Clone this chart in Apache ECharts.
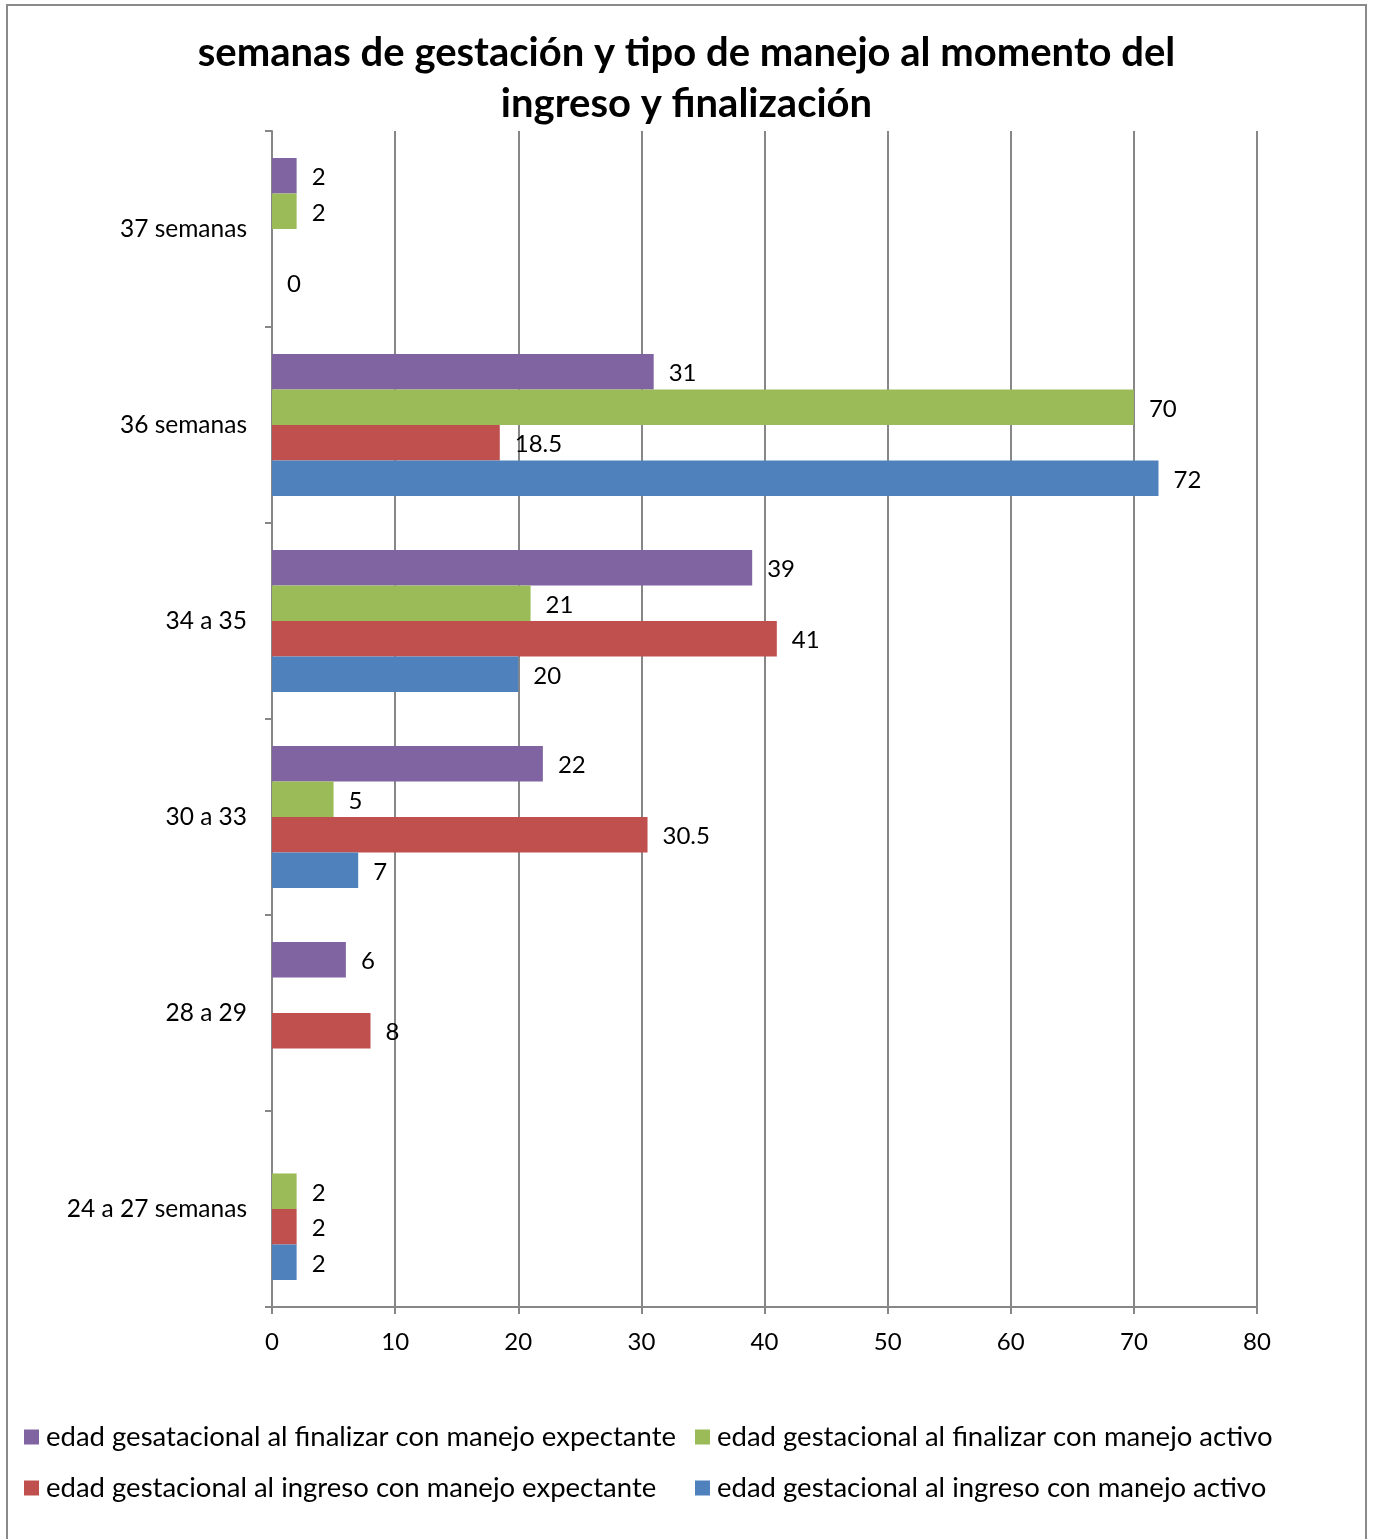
<!DOCTYPE html>
<html>
<head>
<meta charset="utf-8">
<script src="https://cdn.jsdelivr.net/npm/echarts@6/dist/echarts.min.js"></script>
<style>
  html, body { margin: 0; padding: 0; background: #fff; }
  #chart { width: 1373px; height: 1539px; }
</style>
</head>
<body>
<div id="chart"></div>
<script>
// categorias de abajo hacia arriba
const categories = ['24 a 27 semanas', '28 a 29', '30 a 33', '34 a 35', '36 semanas', '37 semanas']
const xTicks = [0, 10, 20, 30, 40, 50, 60, 70, 80]

const ingresoActivo = [2, null, 7, 20, 72, 0]
const ingresoExpectante = [2, 8, 30.5, 41, 18.5, null]
const finalizarActivo = [2, null, 5, 21, 70, 2]
const finalizarExpectante = [null, 6, 22, 39, 31, 2]

const names = {
  ia: 'edad gestacional al ingreso con manejo activo',
  ie: 'edad gestacional al ingreso con manejo expectante',
  fa: 'edad gestacional al finalizar con manejo activo',
  fe: 'edad gesatacional al finalizar con manejo expectante'
}

const font = 'Lato'
const gray = '#878787'

const makeSeries = (name, data, color) => ({
  name: name,
  type: 'bar',
  data: data,
  barGap: '0%',
  barCategoryGap: '27.5%',
  itemStyle: { color: color },
  label: {
    show: true,
    position: 'right',
    distance: 15,
    offset: [0, 2],
    color: '#000',
    fontFamily: font,
    fontSize: 24
  }
})

const legendText = { fontFamily: font, fontSize: 27.5, color: '#000', padding: [0, 0, 0, 2] }

var myChart = echarts.init(document.getElementById('chart'))
let option = {
  animation: false,
  title: {
    text: 'semanas de gestación y tipo de manejo al momento del\ningreso y finalización',
    left: 'center',
    top: 23,
    textStyle: {
      fontFamily: font,
      fontSize: 40,
      fontWeight: 'bold',
      color: '#000',
      lineHeight: 51
    }
  },
  legend: [
    {
      orient: 'vertical',
      left: 19,
      top: 1418,
      itemGap: 23,
      itemWidth: 15,
      itemHeight: 15,
      icon: 'rect',
      data: [names.fe, names.ie],
      textStyle: legendText
    },
    {
      orient: 'vertical',
      left: 690,
      top: 1418,
      itemGap: 23,
      itemWidth: 15,
      itemHeight: 15,
      icon: 'rect',
      data: [names.fa, names.ia],
      textStyle: legendText
    }
  ],
  grid: {
    left: 272,
    right: 116,
    top: 131,
    bottom: 232,
    containLabel: false
  },
  xAxis: {
    type: 'value',
    min: xTicks[0],
    max: xTicks[xTicks.length - 1],
    interval: 10,
    axisLine: { show: true, lineStyle: { color: gray, width: 2 } },
    axisTick: { show: true, length: 7, lineStyle: { color: gray, width: 2 } },
    splitLine: { show: true, lineStyle: { color: gray, width: 2 } },
    axisLabel: { margin: 23, color: '#000', fontFamily: font, fontSize: 24 }
  },
  yAxis: {
    type: 'category',
    data: categories,
    axisLine: { show: true, lineStyle: { color: gray, width: 2 } },
    axisTick: { show: true, length: 7, lineStyle: { color: gray, width: 2 } },
    axisLabel: { margin: 25, color: '#000', fontFamily: font, fontSize: 24.5 }
  },
  graphic: [
    {
      type: 'rect',
      shape: { x: 7, y: 5, width: 1359, height: 1560 },
      style: { fill: 'none', stroke: '#8a8a8a', lineWidth: 2 },
      silent: true
    }
  ],
  // la primera serie queda arriba dentro de cada categoria
  series: [
    makeSeries(names.fe, finalizarExpectante, '#8064A2'),
    makeSeries(names.fa, finalizarActivo, '#9BBB59'),
    makeSeries(names.ie, ingresoExpectante, '#C0504D'),
    makeSeries(names.ia, ingresoActivo, '#4F81BD')
  ]
}
myChart.setOption(option)
</script>
</body>
</html>
